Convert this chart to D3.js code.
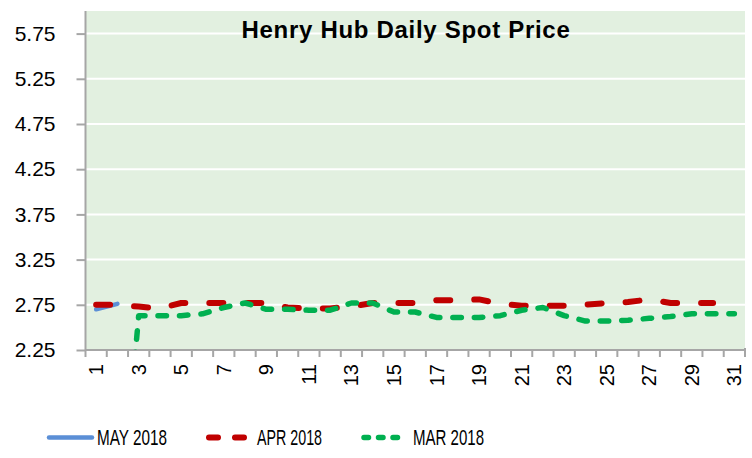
<!DOCTYPE html>
<html>
<head>
<meta charset="utf-8">
<script src="https://cdn.jsdelivr.net/npm/d3@7"></script>
<style>
  html, body { margin: 0; padding: 0; background: #ffffff; }
  svg { display: block; }
</style>
</head>
<body>
<svg id="chart" width="752" height="458"></svg>
<script>
// ---- data ----
const days = [1,2,3,4,5,6,7,8,9,10,11,12,13,14,15,16,17,18,19,20,21,22,23,24,25,26,27,28,29,30,31];
const xTickLabels = [1,3,5,7,9,11,13,15,17,19,21,23,25,27,29,31];
const yTicks = [2.25, 2.75, 3.25, 3.75, 4.25, 4.75, 5.25, 5.75];
const titleText = "Henry Hub Daily Spot Price";
const seriesNames = ["MAY 2018", "APR 2018", "MAR 2018"];
const may2018 = [2.70, 2.76, null, null, null, null, null, null, null, null, null, null, null, null, null, null,
                 null, null, null, null, null, null, null, null, null, null, null, null, null, null, null];
const apr2018 = [2.75, 2.75, 2.73, 2.71, 2.77, 2.77, 2.77, 2.77, 2.77, 2.72, 2.71, 2.71, 2.73, 2.77, 2.77, 2.77,
                 2.80, 2.80, 2.81, 2.76, 2.74, 2.74, 2.74, 2.75, 2.77, 2.78, 2.81, 2.77, 2.77, 2.77, null];
const mar2018 = [null, 0, 2.63, 2.63, 2.63, 2.65, 2.72, 2.77, 2.70, 2.70, 2.69, 2.69, 2.77, 2.77, 2.67, 2.67,
                 2.61, 2.61, 2.61, 2.63, 2.69, 2.72, 2.63, 2.57, 2.57, 2.58, 2.60, 2.62, 2.65, 2.65, 2.65];

// ---- layout ----
const svg = d3.select("#chart");
const plot = { left: 85.5, right: 745, top: 11, bottom: 350 };
const x = d3.scaleBand().domain(days).range([plot.left, plot.right]).padding(0);
const y = d3.scaleLinear().domain([2.25, 6.0]).range([plot.bottom, plot.top]);
const axisColor = "#a6a6a6";
const labelFont = "'Liberation Sans', Arial, sans-serif";

// plot background
svg.append("rect")
  .attr("x", plot.left).attr("y", plot.top)
  .attr("width", plot.right - plot.left).attr("height", plot.bottom - plot.top)
  .attr("fill", "#e2f0e0");

// gridlines
svg.append("g").selectAll("line").data(yTicks.slice(1)).join("line")
  .attr("x1", plot.left).attr("x2", plot.right)
  .attr("y1", d => y(d)).attr("y2", d => y(d))
  .attr("stroke", "#ffffff").attr("stroke-width", 2);

// y axis
const yAxis = d3.axisLeft(y).tickValues(yTicks).tickFormat(d3.format(".2f")).tickSize(9).tickPadding(21);
const gy = svg.append("g").attr("transform", `translate(${plot.left},0)`).call(yAxis);
gy.select(".domain").attr("stroke", axisColor).attr("stroke-width", 2).attr("d", `M0,${plot.top}V${plot.bottom}`);
gy.selectAll(".tick line").attr("stroke", axisColor).attr("stroke-width", 2);
gy.selectAll(".tick text").attr("fill", "#000").style("font-family", labelFont).style("font-size", "21px");

// x axis
const gx = svg.append("g");
gx.append("line").attr("x1", plot.left).attr("x2", plot.right)
  .attr("y1", plot.bottom).attr("y2", plot.bottom)
  .attr("stroke", axisColor).attr("stroke-width", 2);
const boundaries = days.map(d => x(d)).concat([x(days[days.length - 1]) + x.bandwidth()]);
gx.selectAll("line.tick").data(boundaries).join("line").attr("class", "tick")
  .attr("x1", d => d).attr("x2", d => d)
  .attr("y1", plot.bottom).attr("y2", plot.bottom + 7)
  .attr("stroke", axisColor).attr("stroke-width", 2);
gx.selectAll("text").data(xTickLabels).join("text")
  .attr("transform", d => `translate(${x(d) + x.bandwidth() / 2 + 7},${plot.bottom + 14}) rotate(-90)`)
  .attr("text-anchor", "end")
  .style("font-family", labelFont).style("font-size", "20px")
  .text(d => d);

// right edge tick of plot
svg.append("line").attr("x1", plot.right).attr("x2", plot.right)
  .attr("y1", plot.bottom - 2).attr("y2", plot.bottom + 7)
  .attr("stroke", axisColor).attr("stroke-width", 2);

// clip
svg.append("clipPath").attr("id", "plotclip").append("rect")
  .attr("x", plot.left).attr("y", plot.top)
  .attr("width", plot.right - plot.left).attr("height", plot.bottom - plot.top);

const line = d3.line()
  .defined(d => d.v != null)
  .x(d => x(d.day) + x.bandwidth() / 2)
  .y(d => y(d.v));

const series = [
  { name: seriesNames[2], values: mar2018, color: "#00b050", width: 5.5, dash: "8.5,13" },
  { name: seriesNames[1], values: apr2018, color: "#c00000", width: 6, dash: "14,24" },
  { name: seriesNames[0], values: may2018, color: "#5b8fd6", width: 4.5, dash: null }
];

const gl = svg.append("g").attr("clip-path", "url(#plotclip)");
[series[2], series[1], series[0]].forEach(s => {
  gl.append("path")
    .datum(days.map((d, i) => ({ day: d, v: s.values[i] })))
    .attr("d", line)
    .attr("fill", "none")
    .attr("stroke", s.color)
    .attr("stroke-width", s.width)
    .attr("stroke-linecap", "round")
    .attr("stroke-linejoin", "round")
    .attr("stroke-dasharray", s.dash);
});

// title
svg.append("text")
  .attr("x", 406).attr("y", 38)
  .attr("text-anchor", "middle")
  .style("font-family", labelFont).style("font-weight", "bold")
  .style("font-size", "24px").style("letter-spacing", "0.7px")
  .text(titleText);

// legend
const legendItems = [
  { s: series[2], x1: 49, x2: 92, tx: 97, w: 70 },
  { s: series[1], x1: 209, x2: 247, tx: 257, w: 65, dash: "9,17" },
  { s: series[0], x1: 364, x2: 402, tx: 413, w: 71, dash: "4.5,10" }
];
const ly = 437.5;
const lg = svg.append("g");
legendItems.forEach(it => {
  lg.append("line")
    .attr("x1", it.x1).attr("x2", it.x2).attr("y1", ly).attr("y2", ly)
    .attr("stroke", it.s.color).attr("stroke-width", it.s.width)
    .attr("stroke-linecap", "round")
    .attr("stroke-dasharray", it.dash || null);
  lg.append("text")
    .attr("x", it.tx).attr("y", ly).attr("dy", "0.36em")
    .attr("textLength", it.w).attr("lengthAdjust", "spacingAndGlyphs")
    .style("font-family", labelFont).style("font-size", "21.5px")
    .text(it.s.name);
});
</script>
</body>
</html>
